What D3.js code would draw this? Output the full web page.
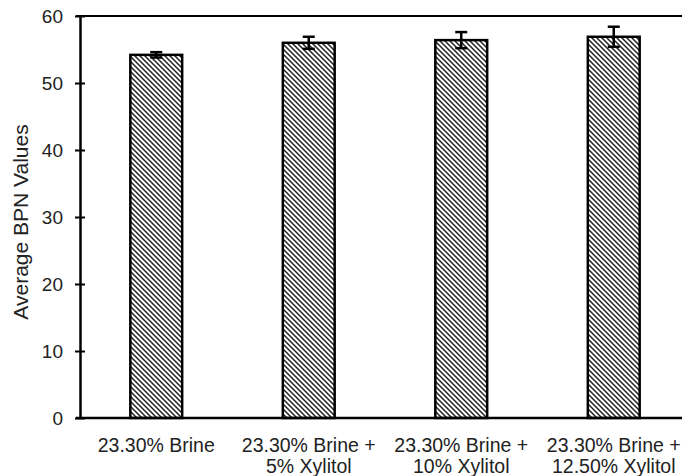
<!DOCTYPE html>
<html>
<head>
<meta charset="utf-8">
<script src="https://cdn.jsdelivr.net/npm/d3@7"></script>
<style>
  body { margin: 0; background: #fff; }
  svg { display: block; font-family: "Liberation Sans", Arial, sans-serif; }
</style>
</head>
<body>
<svg id="chart" width="682" height="476"></svg>
<script>
var categories = [
    ["23.30% Brine"],
    ["23.30% Brine +", "5% Xylitol"],
    ["23.30% Brine +", "10% Xylitol"],
    ["23.30% Brine +", "12.50% Xylitol"]
];
var values = [54.2, 56.0, 56.4, 56.9];
var errors = [0.4, 0.9, 1.2, 1.5];
var yTicks = [0, 10, 20, 30, 40, 50, 60];

var svg = d3.select("#chart");
var margin = {left: 80, top: 16};
var plotW = 610, plotH = 402;

var defs = svg.append("defs");
var pat = defs.append("pattern")
    .attr("id", "hatch")
    .attr("patternUnits", "userSpaceOnUse")
    .attr("width", 5).attr("height", 5);
pat.append("rect").attr("width", 5).attr("height", 5).attr("fill", "#fff");
pat.append("path")
    .attr("d", "M-1,-1 L6,6 M-1,4 L1,6 M4,-1 L6,1")
    .attr("stroke", "#222").attr("stroke-width", 1.5);

var g = svg.append("g")
    .attr("transform", "translate(" + margin.left + "," + margin.top + ")");

var x = d3.scaleBand()
    .domain(d3.range(categories.length))
    .range([0, plotW])
    .paddingInner(0.66).paddingOuter(0.33);

var y = d3.scaleLinear().domain([0, 60]).range([plotH, 0]);

// top border line at 60
g.append("line")
    .attr("x1", -4).attr("x2", plotW)
    .attr("y1", y(60)).attr("y2", y(60))
    .attr("stroke", "#000").attr("stroke-width", 2);

// bars
g.selectAll(".bar")
    .data(values)
    .enter()
    .append("rect")
    .attr("class", "bar")
    .attr("x", function (d, i) { return x(i); })
    .attr("width", x.bandwidth())
    .attr("y", function (d) { return y(d); })
    .attr("height", function (d) { return plotH - y(d); })
    .attr("fill", "url(#hatch)")
    .attr("stroke", "#000")
    .attr("stroke-width", 2.5);

// error bars
var eb = g.selectAll(".err")
    .data(values)
    .enter()
    .append("g")
    .attr("class", "err")
    .attr("stroke", "#000")
    .attr("stroke-width", 2.5);
eb.append("line")
    .attr("x1", function (d, i) { return x(i) + x.bandwidth() / 2; })
    .attr("x2", function (d, i) { return x(i) + x.bandwidth() / 2; })
    .attr("y1", function (d, i) { return y(d + errors[i]); })
    .attr("y2", function (d, i) { return y(d - errors[i]); });
eb.selectAll(".cap")
    .data(function (d, i) { return [[i, d + errors[i]], [i, d - errors[i]]]; })
    .enter()
    .append("line")
    .attr("x1", function (d) { return x(d[0]) + x.bandwidth() / 2 - 6; })
    .attr("x2", function (d) { return x(d[0]) + x.bandwidth() / 2 + 6; })
    .attr("y1", function (d) { return y(d[1]); })
    .attr("y2", function (d) { return y(d[1]); });

// y axis
var yAxis = d3.axisLeft(y)
    .tickValues(yTicks)
    .tickSizeInner(0)
    .tickSizeOuter(0)
    .tickPadding(17);
var ya = g.append("g").call(yAxis);
ya.select(".domain").attr("stroke-width", 2.5);
ya.selectAll(".tick line")
    .attr("x1", -5).attr("x2", 5)
    .attr("stroke-width", 2);
ya.selectAll(".tick text")
    .attr("font-size", 19)
    .attr("fill", "#222")
    .attr("font-family", "Liberation Sans, Arial, sans-serif");

// x axis baseline
g.append("line")
    .attr("x1", -4).attr("x2", plotW)
    .attr("y1", plotH).attr("y2", plotH)
    .attr("stroke", "#000").attr("stroke-width", 2.5);

// category labels
var lab = g.selectAll(".cat")
    .data(categories)
    .enter()
    .append("text")
    .attr("class", "cat")
    .attr("text-anchor", "middle")
    .attr("font-size", 19.5)
    .attr("fill", "#222")
    .attr("transform", function (d, i) {
        return "translate(" + (x(i) + x.bandwidth() / 2) + "," + (plotH + 34) + ")";
    });
lab.selectAll("tspan")
    .data(function (d) { return d; })
    .enter()
    .append("tspan")
    .attr("x", 0)
    .attr("dy", function (d, j) { return j === 0 ? 0 : 21; })
    .text(function (d) { return d; });

// y axis title
svg.append("text")
    .attr("transform", "translate(28," + (margin.top + 206) + ") rotate(-90)")
    .attr("text-anchor", "middle")
    .attr("font-size", 21)
    .attr("fill", "#222")
    .text("Average BPN Values");
</script>
</body>
</html>
